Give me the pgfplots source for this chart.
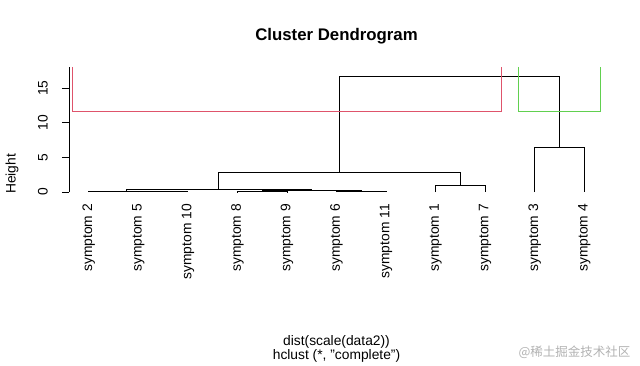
\documentclass[border=0pt]{standalone}
\usepackage{pgfplots}
\pgfplotsset{compat=1.18}
\usepackage{fontspec}
\setmainfont{Liberation Sans}
\newfontfamily\cjk{Noto Sans CJK SC}
\definecolor{rred}{HTML}{DF536B}
\definecolor{rgreen}{HTML}{61D04F}
\begin{document}
\begin{tikzpicture}
\path[use as bounding box] (0,0) rectangle (640bp,366bp);
\begin{axis}[
  at={(69bp,85bp)}, anchor=south west,
  width=535bp, height=214bp, scale only axis,
  xmin=0.6, xmax=11.4, ymin=-12.84, ymax=18.05,
  clip=false,
  axis x line=middle, axis y line=left,
  x axis line style={draw=none}, y axis line style={draw=none},
  xtick={1,2,3,4,5,6,7,8,9,10,11},
  xticklabels={symptom 2,symptom 5,symptom 10,symptom 8,symptom 9,symptom 6,symptom 11,symptom 1,symptom 7,symptom 3,symptom 4},
  xtick style={draw=none},
  ytick={0,5,10,15},
  ytick style={black, line width=0.75bp},
  tick align=outside, major tick length=7bp,
  /pgf/number format/assume math mode=true,
  font=\fontsize{13.8bp}{16bp}\selectfont,
  xticklabel style={yshift=-5bp, rotate=90, anchor=east, inner sep=0pt},
  yticklabel style={xshift=-14bp, rotate=90, anchor=south, inner sep=0pt},
  title={Cluster Dendrogram},
  title style={at={(axis description cs:0.5,1)}, anchor=base, yshift=20.5bp, inner sep=0pt, font=\fontsize{16.8bp}{20bp}\selectfont\bfseries},
  xlabel={dist(scale(data2))\\hclust (*, "complete")},
  xlabel style={at={(axis description cs:0.5,0)}, anchor=north, yshift=-54bp, inner sep=0pt, align=center, font=\fontsize{13.8bp}{11.7bp}\selectfont},
  ylabel={Height},
  ylabel style={at={(axis description cs:0,0.5)}, anchor=center, yshift=57bp, inner sep=0pt},
]
% y axis line
\addplot[black, line width=0.8bp] coordinates {(0.6,0) (0.6,18.05)};
% dendrogram
\addplot[black, line width=0.8bp] coordinates {(2,0) (2,0.08) (3,0.08) (3,0)};
\addplot[black, line width=0.8bp] coordinates {(1,0) (1,0.16) (2.5,0.16) (2.5,0.08)};
\addplot[black, line width=0.8bp] coordinates {(4,0) (4,0.07) (5,0.07) (5,0)};
\addplot[black, line width=0.8bp] coordinates {(6,0) (6,0.1) (7,0.1) (7,0)};
\addplot[black, line width=0.8bp] coordinates {(4.5,0.07) (4.5,0.27) (6.5,0.27) (6.5,0.1)};
\addplot[black, line width=0.8bp] coordinates {(1.75,0.16) (1.75,0.45) (5.5,0.45) (5.5,0.27)};
\addplot[black, line width=0.8bp] coordinates {(8,0) (8,1.0) (9,1.0) (9,0)};
\addplot[black, line width=0.8bp] coordinates {(3.625,0.45) (3.625,2.85) (8.5,2.85) (8.5,1.0)};
\addplot[black, line width=0.8bp] coordinates {(10,0) (10,6.4) (11,6.4) (11,0)};
\addplot[black, line width=0.8bp] coordinates {(6.0625,2.85) (6.0625,16.75) (10.5,16.75) (10.5,6.4)};
% cluster rectangles
\addplot[rred, line width=0.9bp] coordinates {(0.66,18.05) (0.66,11.58) (9.33,11.58) (9.33,18.05)};
\addplot[rgreen, line width=0.9bp] coordinates {(9.67,18.05) (9.67,11.58) (11.33,11.58) (11.33,18.05)};
\end{axis}
\node[anchor=center, inner sep=0pt, text=black!30, font=\cjk\fontsize{12.5bp}{14bp}\selectfont] at (574.5bp,14bp) {@稀土掘金技术社区};
\end{tikzpicture}
\end{document}
